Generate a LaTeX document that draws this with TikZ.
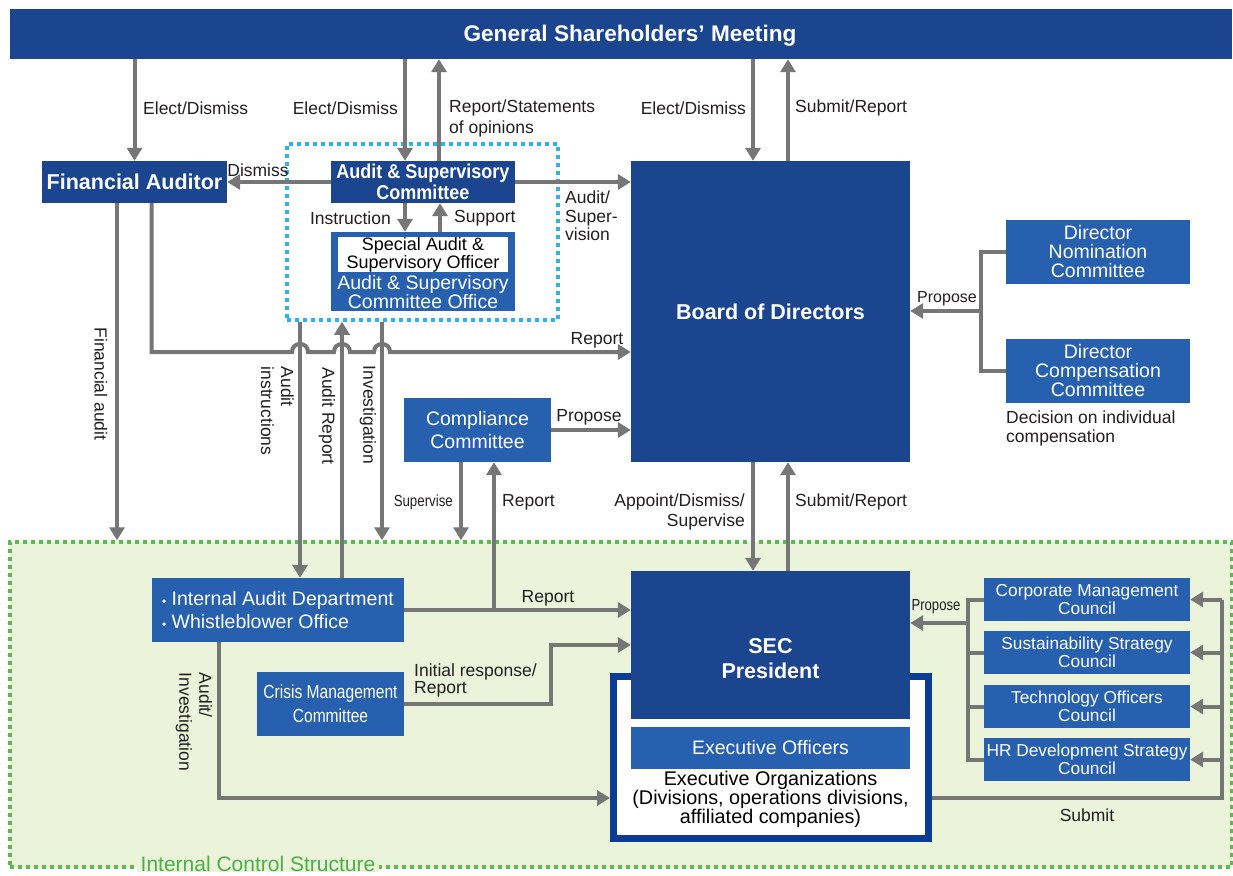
\documentclass[tikz,border=0pt]{standalone}
\usepackage{fontspec}
\setmainfont{Liberation Sans}
\usetikzlibrary{arrows.meta,calc}
\definecolor{dblue}{HTML}{1B458F}
\definecolor{mblue}{HTML}{2660AE}
\definecolor{agray}{HTML}{767676}
\definecolor{gbg}{HTML}{EBF3DA}
\definecolor{gdot}{HTML}{5CBB4F}
\definecolor{gtxt}{HTML}{4DAF47}
\definecolor{cdot}{HTML}{2DB4E8}
\definecolor{fblue}{HTML}{0A3C96}
\definecolor{ltxt}{HTML}{231F20}
\newcommand{\fsz}[2]{\fontsize{#1}{#2}\selectfont}
\begin{document}
\begin{tikzpicture}[x=1pt,y=-1pt,
  darkbox/.style={fill=dblue, draw=none, text=white, inner sep=0pt, align=center},
  medbox/.style={fill=mblue, draw=none, text=white, inner sep=0pt, align=center, font={\fsz{19.5}{19}}},
  arr/.style={draw=agray, line width=4pt, -{Triangle[length=13pt,width=15pt]}},
  ln/.style={draw=agray, line width=4pt},
  lbl/.style={text=ltxt, inner sep=0pt, font={\fsz{17.5}{20}}},
  slbl/.style={text=ltxt, inner sep=0pt, font={\fsz{16}{16}}},
]
\fill[white] (0,0) rectangle (1233,875);
\useasboundingbox (0,0) rectangle (1233,875);

% regions
\node[fill=gbg, draw=gdot, line width=3.5pt, dash pattern=on 4pt off 4pt, minimum width=1222pt, minimum height=325pt, inner sep=0pt] (ics) at (621,704.5) {};
\node[draw=cdot, line width=3.5pt, dash pattern=on 4pt off 4pt, minimum width=271pt, minimum height=176pt, inner sep=0pt] (ascbox) at (422.5,232) {};

% boxes
\node[darkbox, minimum width=1222pt, minimum height=50pt] (gsm) at (621,34) {};
\node[text=white, inner sep=0pt, font={\bfseries\fsz{22.6}{22.6}}] (gsmt) at (630,35.5) {General Shareholders’ Meeting};
\node[darkbox, minimum width=185pt, minimum height=42pt, font={\bfseries\fsz{21.5}{21.5}}] (fa) at (134.5,182) {Financial Auditor};
\node[darkbox, minimum width=184pt, minimum height=42pt, font={\bfseries\fsz{20}{20.5}}] (asc) at (423,182) {\scalebox{0.9}[1]{Audit \& Supervisory}\\\scalebox{0.9}[1]{Committee}};
\node[fill=mblue, minimum width=184pt, minimum height=79pt, inner sep=0pt] (aso) at (423,271.5) {};
\node[fill=white, minimum width=170pt, minimum height=35pt, inner sep=0pt, align=center, text=black, font={\fsz{18}{16}}] (sao) at (423,254.5) {Special Audit \&\\Supervisory Officer};
\node[text=white, inner sep=0pt, align=center, font={\fsz{19.5}{19}}] (asot) at (423,292) {Audit \& Supervisory\\Committee Office};
\node[darkbox, minimum width=279pt, minimum height=301pt, font={\bfseries\fsz{21.5}{21.5}}] (board) at (770.5,311.5) {Board of Directors};
\node[medbox, minimum width=184pt, minimum height=64pt] (dnc) at (1098,252) {Director\\Nomination\\Committee};
\node[medbox, minimum width=184pt, minimum height=64pt] (dcc) at (1098,371) {Director\\Compensation\\Committee};
\node[medbox, minimum width=147pt, minimum height=64pt, font={\fsz{19.5}{22.5}}] (cc) at (477.5,430) {Compliance\\Committee};
\node[medbox, minimum width=252pt, minimum height=64pt, align=left, font={\fsz{19.5}{23}}] (iad) at (278,610) {\scalebox{0.6}{•}\ Internal Audit Department\\\scalebox{0.6}{•}\ Whistleblower Office};
\node[medbox, minimum width=147pt, minimum height=64pt, font={\fsz{19}{24}}] (cmc) at (330.5,704) {\scalebox{0.82}[1]{Crisis Management}\\\scalebox{0.82}[1]{Committee}};
\node[fill=white, draw=fblue, line width=7pt, minimum width=315pt, minimum height=162pt, inner sep=0pt] (eorg) at (771,757.5) {};
\node[darkbox, minimum width=279pt, minimum height=148pt] (sec) at (770.5,645) {};
\node[text=white, inner sep=0pt, align=center, font={\bfseries\fsz{21.5}{25}}] (sect) at (770.5,659) {SEC\\President};
\node[medbox, minimum width=279pt, minimum height=42pt] (eo) at (770.5,748) {Executive Officers};
\node[text=black, inner sep=0pt, align=center, font={\fsz{19.8}{19}}] (eot) at (770.5,799) {Executive Organizations\\(Divisions, operations divisions,\\affiliated companies)};
\node[medbox, minimum width=206pt, minimum height=43pt, font={\fsz{17.3}{18}}] (c1) at (1087,599.5) {Corporate Management\\Council};
\node[medbox, minimum width=206pt, minimum height=43pt, font={\fsz{17.3}{18}}] (c2) at (1087,652.5) {Sustainability Strategy\\Council};
\node[medbox, minimum width=206pt, minimum height=43pt, font={\fsz{17.3}{18}}] (c3) at (1087,706.5) {Technology Officers\\Council};
\node[medbox, minimum width=206pt, minimum height=43pt, font={\fsz{17.3}{18}}] (c4) at (1087,759.5) {HR Development Strategy\\Council};

% connectors
\draw[arr] (gsm.south -| fa.north) -- (fa.north);
\draw[arr] ([xshift=-18pt]asc.north |- gsm.south) -- ([xshift=-18pt]asc.north);
\draw[arr] ([xshift=16pt]asc.north) -- ([xshift=16pt]asc.north |- gsm.south);
\draw[arr] ([xshift=-17.5pt]board.north |- gsm.south) -- ([xshift=-17.5pt]board.north);
\draw[arr] ([xshift=17.5pt]board.north) -- ([xshift=17.5pt]board.north |- gsm.south);
\draw[arr] (asc.west) -- (fa.east);
\draw[arr] (asc.east) -- (asc.east -| board.west);
\draw[arr] ([xshift=-18pt]asc.south) -- ([xshift=-18pt]aso.north);
\draw[arr] ([xshift=17pt]aso.north) -- ([xshift=17pt]asc.south);
\draw[arr] ([xshift=-17.5pt]fa.south) -- ([xshift=-17.5pt]fa.south |- ics.north);
\draw[arr] ([xshift=17pt]fa.south) -- (151.5,352) -- (292,352) .. controls (292,341.3) and (308,341.3) .. (308,352) -- (334,352) .. controls (334,341.3) and (350,341.3) .. (350,352) -- (374,352) .. controls (374,341.3) and (390,341.3) .. (390,352) -- (board.west |- 0,352);
\draw[arr] (300,0 |- ascbox.south) -- (300,0 |- iad.north);
\draw[arr] (342,0 |- iad.north) -- (342,0 |- ascbox.south);
\draw[arr] (382,0 |- ascbox.south) -- (382,0 |- ics.north);
\draw[arr] (461,0 |- cc.south) -- (461,0 |- ics.north);
\draw[arr] (494,0 |- iad.east) -- (494,0 |- cc.south);
\draw[arr] (cc.east) -- (cc.east -| board.west);
\draw[arr] (iad.east) -- (iad.east -| sec.west);
\draw[arr] (cmc.east) -- (551,0 |- cmc.east) -- (551,0 |- sec.west) -- (sec.west);
\draw[arr] (219,0 |- iad.south) -- (219,798) -- (eorg.west |- 0,798);
\draw[arr] ([xshift=-17.5pt]board.south) -- ([xshift=-17.5pt]sec.north);
\draw[arr] ([xshift=17.5pt]sec.north) -- ([xshift=17.5pt]board.south);
\draw[ln] (dnc.west) -- (981,0 |- dnc.west) -- (981,0 |- dcc.west) -- (dcc.west);
\draw[arr] (981,311) -- (board.east |- 0,311);
\draw[ln] (c1.west) -- (968,0 |- c1.west) -- (968,0 |- c4.west) -- (c4.west);
\draw[ln] (c2.west) -- (968,0 |- c2.west);
\draw[ln] (c3.west) -- (968,0 |- c3.west);
\draw[arr] (968,623) -- (sec.east |- 0,623);
\draw[ln] (eorg.east |- 0,798) -- (1222,798) -- (1222,0 |- c1.east);
\foreach \c in {c1,c2,c3,c4} \draw[arr] (1222,0 |- \c.east) -- (\c.east);

% labels
\node[lbl, anchor=west] (l1) at (143,108) {Elect/Dismiss};
\node[lbl, anchor=east] (l2) at (398,108) {Elect/Dismiss};
\node[lbl, anchor=west, align=left, font={\fsz{17.5}{21}}] (l3) at (449,118) {Report/Statements\\of opinions};
\node[lbl, anchor=east] (l4) at (746,108) {Elect/Dismiss};
\node[lbl, anchor=west] (l5) at (795,108) {Submit/Report};
\node[lbl] (l6) at (258,170) {Dismiss};
\node[lbl, anchor=east] (l7) at (391,218) {Instruction};
\node[lbl, anchor=west] (l8) at (454,218) {Support};
\node[lbl, anchor=west, align=left, font={\fsz{17.5}{18.5}}] (l9) at (565,216) {Audit/\\Super-\\vision};
\node[lbl] (l10) at (597,340) {Report};
\node[slbl] (l11) at (947,299) {Propose};
\node[lbl, anchor=west, align=left, font={\fsz{17.5}{19}}] (l12) at (1006,428) {Decision on individual\\compensation};
\node[lbl] (l13) at (589,417) {Propose};
\node[slbl, anchor=east] (l14) at (453,502) {\scalebox{0.83}[1]{Supervise}};
\node[lbl, anchor=west] (l15) at (502,502) {Report};
\node[lbl, anchor=east, align=right] (l16) at (745,512) {Appoint/Dismiss/\\Supervise};
\node[lbl, anchor=west] (l17) at (795,502) {Submit/Report};
\node[lbl] (l18) at (548,598) {Report};
\node[lbl, anchor=west, align=left, font={\fsz{17.5}{17}}] (l19) at (414,680) {Initial response/\\Report};
\node[slbl] (l20) at (936,607) {\scalebox{0.82}[1]{Propose}};
\node[lbl] (l21) at (1087,815) {Submit};
\node[lbl, rotate=-90] (l22) at (101,384) {Financial audit};
\node[lbl, rotate=-90, align=left, font={\fsz{17.5}{20}}] (l23) at (277.5,411) {Audit\\instructions};
\node[lbl, rotate=-90] (l24) at (327,416) {Audit Report};
\node[lbl, rotate=-90] (l25) at (368,415) {Investigation};
\node[lbl, rotate=-90, align=left, font={\fsz{17.5}{20}}] (l26) at (194,722) {Audit/\\Investigation};
\node[fill=gbg, text=gtxt, inner xsep=4pt, inner ysep=0pt, font={\fsz{21}{21}}] (l27) at (258,864) {Internal Control Structure};
\end{tikzpicture}
\end{document}
